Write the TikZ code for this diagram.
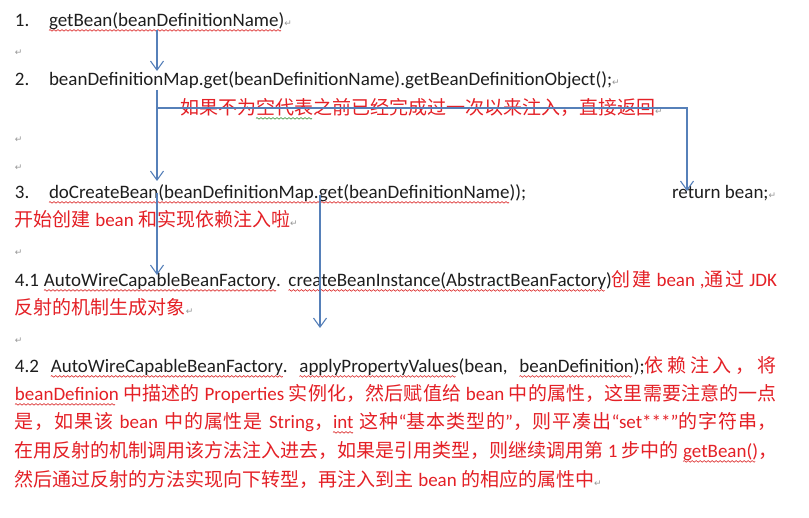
\documentclass[tikz,border=0pt]{standalone}
\usepackage{fontspec}
\usepackage{graphicx}
\setmainfont{Carlito}
\newfontfamily\cjk{Noto Sans CJK SC}
\newfontfamily\djv{DejaVu Sans}
\usetikzlibrary{arrows.meta}
\definecolor{txt}{RGB}{30,30,30}
\definecolor{rd}{RGB}{228,32,38}
\definecolor{ln}{RGB}{86,128,185}
\definecolor{mk}{RGB}{150,150,150}
\definecolor{wr}{RGB}{220,40,40}
\definecolor{wg}{RGB}{60,150,60}
\newsavebox\wavered
\newsavebox\wavegreen
\newsavebox\jtmp
\sbox\wavered{\tikz[baseline=0pt,x=1pt,y=1pt]{\useasboundingbox (0,-4.4) rectangle (4,0); \draw[wr, line width=0.6pt] (0,-3.4) sin (1,-2.6) cos (2,-3.4) sin (3,-4.2) cos (4,-3.4);}}
\sbox\wavegreen{\tikz[baseline=0pt,x=1pt,y=1pt]{\useasboundingbox (0,-4.4) rectangle (4,0); \draw[wg, line width=0.6pt] (0,-3.4) sin (1,-2.6) cos (2,-3.4) sin (3,-4.2) cos (4,-3.4);}}
\newcommand\zh[1]{{\cjk #1}}
\newcommand\rt{{\color{mk}\djv\fontsize{9}{9}\selectfont ↵}}
\newcommand\wv[2][\wavered]{\leavevmode\sbox\jtmp{#2}\rlap{\hbox to\wd\jtmp{\leaders\copy#1\hfill}}\usebox\jtmp}
% inter-character glue for CJK (used for justified lines)
\newXeTeXintercharclass\ccjk
\newXeTeXintercharclass\cpct
\newcount\cc
\cc="4E00
\loop \XeTeXcharclass\cc=\ccjk \advance\cc by 1 \ifnum\cc<"A000 \repeat
\XeTeXcharclass"FF0C=\cpct
\XeTeXcharclass"3001=\cpct
\XeTeXcharclass"3002=\cpct
\def\cjkst{1pt}
\XeTeXinterchartokenstate=1
\XeTeXinterchartoks\ccjk\ccjk = {\hskip 0pt plus \cjkst minus 0.4pt\relax}
\XeTeXinterchartoks\ccjk\cpct = {\hskip 0pt plus \cjkst minus 0.4pt\relax}
\XeTeXinterchartoks\cpct\ccjk = {\hskip 0pt plus \cjkst minus 0.4pt\relax}
\newsavebox\jbox
\newcommand\just[2]{\sbox\jbox{#2}\ifdim\wd\jbox<#1\makebox[#1][s]{#2}\else\resizebox{#1}{\height}{#2}\fi}
\tikzset{
  flow/.style={draw=ln, line width=1.1pt, -{Straight Barb[length=9pt,width=13pt,line width=1.1pt]}},
}
\begin{document}
\begin{tikzpicture}[x=1pt,y=-1pt,
  every node/.style={anchor=base west, inner sep=0pt, outer sep=0pt, text=txt, font=\fontsize{19}{23}\selectfont}]
\useasboundingbox[fill=white] (0,0) rectangle (809,518);
% text lines
\node (n1) at (15,27) {1.};
\node (t1) at (49,27) {\wv{getBean(beanDefinitionName)}\rt};
\node (e1) at (15,56) {\rt};
\node (n2) at (15,86) {2.};
\node (t2) at (49,86) {beanDefinitionMap.get(beanDefinitionName).getBeanDefinitionObject();\rt};
\node[text=rd] (r2) at (180,115) {\zh{如果不为\wv[\wavegreen]{空代表}之前已经完成过一次以来注入，直接返回}\rt};
\node (e2) at (15,143) {\rt};
\node (e3) at (15,171) {\rt};
\node (n3) at (15,199) {3.};
\node (t3) at (49,199) {\wv{doCreateBean(beanDefinitionMap.get(beanDefinitionName}));};
\node (rb) at (672,199) {return bean;\rt};
\node[text=rd] (r3) at (15,227) {\zh{开始创建} bean \zh{和实现依赖注入啦}\rt};
\node (e4) at (15,256) {\rt};
\node (t41) at (15,287) {\def\cjkst{6pt}\just{762pt}{4.1 \wv{AutoWireCapableBeanFactory}. \wv{createBeanInstance(AbstractBeanFactory})\textcolor{rd}{\zh{创建} bean ,\zh{通过} JDK}}};
\node[text=rd] (r41) at (15,315) {\zh{反射的机制生成对象}\rt};
\node (e5) at (15,344) {\rt};
\node (t42) at (15,373) {\def\cjkst{5pt}\just{762pt}{4.2\ \ \wv{AutoWireCapableBeanFactory}.\ \ \wv{applyPropertyValues}(bean,\ \ \wv{beanDefinition});\textcolor{rd}{\zh{依赖注入，将}}}};
\node[text=rd] (t42b) at (15,401) {\just{762pt}{\wv{beanDefinion} \zh{中描述的} Properties \zh{实例化，然后赋值给} bean \zh{中的属性，这里需要注意的一点}}};
\node[text=rd] (t42c) at (15,429) {\just{762pt}{\zh{是，如果该} bean \zh{中的属性是} String\zh{，}\wv{int} \zh{这种}“\zh{基本类型的}”\zh{，则平凑出}“set***”\zh{的字符串，}}};
\node[text=rd] (t42d) at (15,458) {\just{762pt}{\zh{在用反射的机制调用该方法注入进去，如果是引用类型，则继续调用第} 1 \zh{步中的} \wv{getBean()}\zh{，}}};
\node[text=rd] (t42e) at (15,486) {\zh{然后通过反射的方法实现向下转型，再注入到主} bean \zh{的相应的属性中}\rt};
% connectors
\coordinate (a1s) at (157,30);
\coordinate (a1e) at (157,71);
\coordinate (a2s) at (157,90);
\coordinate (a2e) at (157,181);
\coordinate (br) at (157,108);
\coordinate (brr) at (687,108);
\coordinate (rbe) at (687,191);
\coordinate (a3s) at (157,193);
\coordinate (a3e) at (157,275);
\coordinate (a4s) at (320,195);
\coordinate (a4e) at (320,328);
\draw[flow] (a1s) -- (a1e);
\draw[flow] (a2s) -- (a2e);
\draw[flow] (br) -- (brr) -- (rbe);
\draw[flow] (a3s) -- (a3e);
\draw[flow] (a4s) -- (a4e);
\end{tikzpicture}
\end{document}
